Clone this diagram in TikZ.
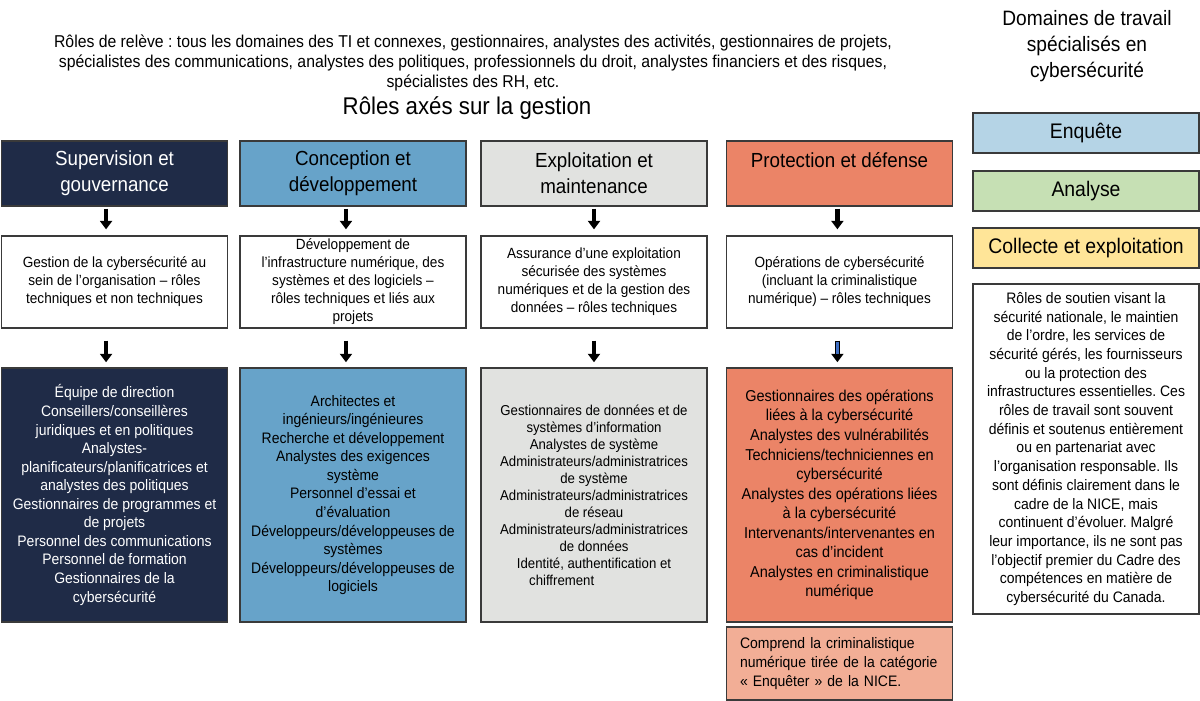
\documentclass[tikz,border=0pt]{standalone}
\usepackage{fontspec}
\setmainfont[FakeStretch=0.92]{Liberation Sans}
\usetikzlibrary{arrows.meta}
\definecolor{frame}{HTML}{3A3A3A}
\definecolor{supgov}{HTML}{1F2B47}
\definecolor{condev}{HTML}{67A3C9}
\definecolor{expmnt}{HTML}{E1E2E0}
\definecolor{prodef}{HTML}{EB8467}
\definecolor{pronote}{HTML}{F2AE96}
\definecolor{enq}{HTML}{B5D4E6}
\definecolor{ana}{HTML}{C6E0B4}
\definecolor{coll}{HTML}{FFE598}
\definecolor{shaft}{HTML}{3F6FC4}
\frenchspacing

\begin{document}
\begin{tikzpicture}[x=0.025cm, y=-0.025cm,
  box/.style={draw=frame, line width=0.9pt, minimum width=160.8pt, align=center, inner sep=2pt},
  head/.style={box, minimum height=46.2pt, font=\fontsize{14.5}{18.5}\selectfont},
  desc/.style={box, fill=white, minimum height=65.4pt, font=\fontsize{10.5}{12.8}\selectfont},
  roles/.style={box, minimum height=180.7pt, font=\fontsize{10.8}{13.2}\selectfont},
  area/.style={box, minimum height=28.5pt, font=\fontsize{15}{18}\selectfont},
  down/.style={-{Triangle[length=6pt, width=8.5pt]}, line width=3pt}]

  \useasboundingbox (0,0) rectangle (1200,701);

  % Titles
  \node[font=\fontsize{12.2}{14.2}\selectfont, align=center] (intro) at (473,63)
    {Rôles de relève : tous les domaines des TI et connexes, gestionnaires, analystes des activités, gestionnaires de projets,\\
     spécialistes des communications, analystes des politiques, professionnels du droit, analystes financiers et des risques,\\
     spécialistes des RH, etc.};
  \node[font=\fontsize{17.2}{20}\selectfont] (mgmt) at (467,108) {Rôles axés sur la gestion};
  \node[font=\fontsize{14.8}{18.5}\selectfont, align=center] (spec) at (1087,46)
    {Domaines de travail\\spécialisés en\\cybersécurité};

  % Category headers
  \node[head, fill=supgov, text=white] (hd1) at (114.5,173.5) {Supervision et\\gouvernance};
  \node[head, fill=condev] (hd2) at (353,173.5) {Conception et\\développement};
  \node[head, fill=expmnt] (hd3) at (594,173.5) {Exploitation et\\maintenance};
  \node[head, fill=prodef] (hd4) at (839.5,173.5) {Protection et défense\\~};

  % Descriptions
  \node[desc] (md1) at (114.5,282)
    {Gestion de la cybersécurité au\\sein de l’organisation – rôles\\techniques et non techniques};
  \node[desc] (md2) at (353,282)
    {Développement de\\l’infrastructure numérique, des\\systèmes et des logiciels –\\rôles techniques et liés aux\\projets};
  \node[desc] (md3) at (594,282)
    {Assurance d’une exploitation\\sécurisée des systèmes\\numériques et de la gestion des\\données – rôles techniques};
  \node[desc] (md4) at (839.5,282)
    {Opérations de cybersécurité\\(incluant la criminalistique\\numérique) – rôles techniques};

  % Work roles
  \node[roles, fill=supgov, text=white] (bt1) at (114.5,495)
    {Équipe de direction\\Conseillers/conseillères\\juridiques et en politiques\\Analystes-\\planificateurs/planificatrices et\\analystes des politiques\\Gestionnaires de programmes et\\de projets\\Personnel des communications\\Personnel de formation\\Gestionnaires de la\\cybersécurité};
  \node[roles, fill=condev] (bt2) at (353,495)
    {Architectes et\\ingénieurs/ingénieures\\Recherche et développement\\Analystes des exigences\\système\\Personnel d’essai et\\d’évaluation\\Développeurs/développeuses de\\systèmes\\Développeurs/développeuses de\\logiciels};
  \node[roles, fill=expmnt, font=\fontsize{10.2}{12.1}\selectfont] (bt3) at (594,495)
    {Gestionnaires de données et de\\systèmes d’information\\Analystes de système\\Administrateurs/administratrices\\de système\\Administrateurs/administratrices\\de réseau\\Administrateurs/administratrices\\de données\\Identité, authentification et\\chiffrement\hspace*{46pt}};
  \node[roles, fill=prodef, font=\fontsize{11.2}{13.9}\selectfont] (bt4) at (839.5,495)
    {Gestionnaires des opérations\\liées à la cybersécurité\\Analystes des vulnérabilités\\Techniciens/techniciennes en\\cybersécurité\\Analystes des opérations liées\\à la cybersécurité\\Intervenants/intervenantes en\\cas d’incident\\Analystes en criminalistique\\numérique};
  \node[box, fill=pronote, minimum height=51.9pt, align=left, text width=141.5pt, inner xsep=9.6pt,
    font=\fontsize{10.8}{13.5}\selectfont] (note) at (839.5,663.5)
    {Comprend la criminalistique\\numérique tirée de la catégorie\\«~Enquêter~» de la NICE.};

  % Specialized areas
  \node[area, fill=enq] (enquete) at (1086,133) {Enquête};
  \node[area, fill=ana] (analyse) at (1086,191) {Analyse};
  \node[area, fill=coll] (collecte) at (1086,248) {Collecte et exploitation};
  \node[box, fill=white, minimum height=234.7pt, font=\fontsize{10.8}{13.3}\selectfont] (support) at (1086,449)
    {Rôles de soutien visant la\\sécurité nationale, le maintien\\de l’ordre, les services de\\sécurité gérés, les fournisseurs\\ou la protection des\\infrastructures essentielles. Ces\\rôles de travail sont souvent\\définis et soutenus entièrement\\ou en partenariat avec\\l’organisation responsable. Ils\\sont définis clairement dans le\\cadre de la NICE, mais\\continuent d’évoluer. Malgré\\leur importance, ils ne sont pas\\l’objectif premier du Cadre des\\compétences en matière de\\cybersécurité du Canada.};

  % Arrows
  \foreach \c/\dx in {1/-6, 2/-5, 3/0, 4/-1.5} {
    \draw[down] ([xshift=\dx pt, yshift=-1.4pt]hd\c.south) -- ([xshift=\dx pt, yshift=4.3pt]md\c.north);
    \draw[down] ([xshift=\dx pt, yshift=-8.5pt]md\c.south) -- ([xshift=\dx pt, yshift=3.6pt]bt\c.north);
  }
  \draw[shaft, line width=1.6pt] ([xshift=-1.5pt, yshift=-9.2pt]md4.south) -- ([xshift=-1.5pt, yshift=9.5pt]bt4.north);
\end{tikzpicture}
\end{document}
